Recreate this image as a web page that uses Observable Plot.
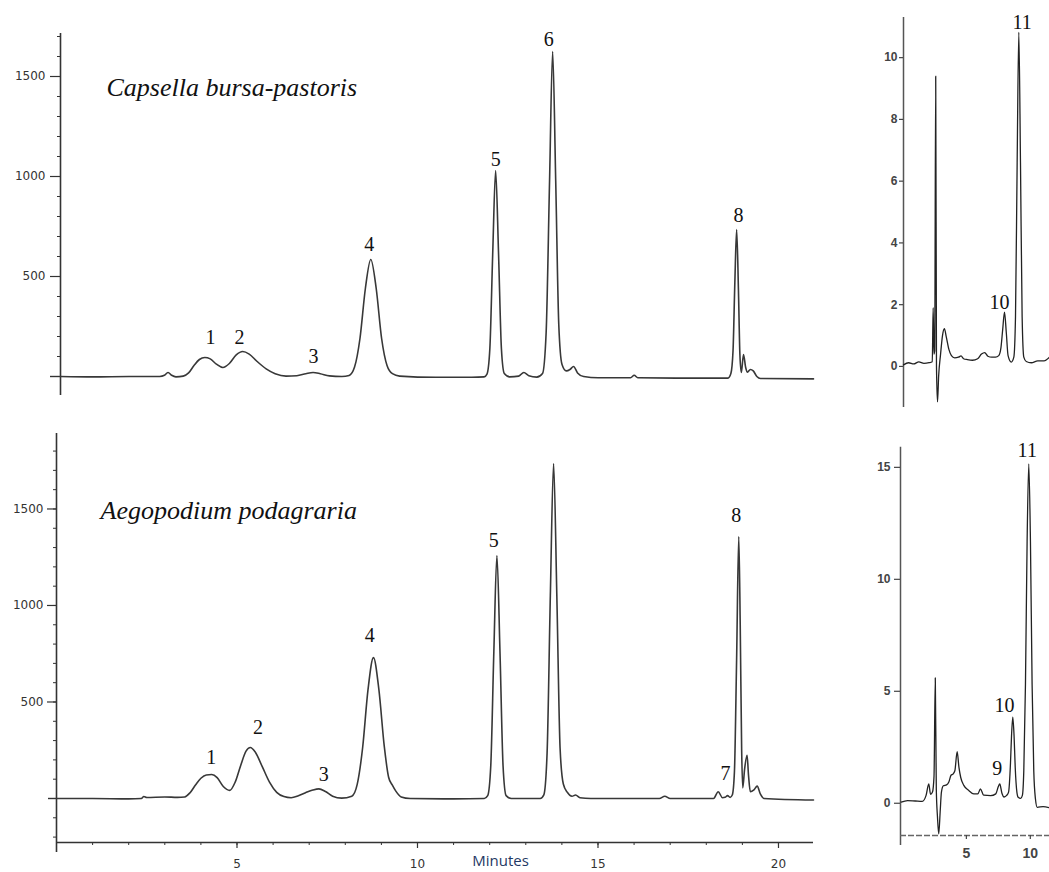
<!DOCTYPE html>
<html><head><meta charset="utf-8">
<script src="https://cdn.jsdelivr.net/npm/d3@7"></script>
<script src="https://cdn.jsdelivr.net/npm/@observablehq/plot@0.6"></script>
<style>
body{margin:0;background:#fff;}
#chart{position:relative;width:1049px;height:872px;overflow:hidden;background:#fff;}
</style></head><body><div id="chart"></div>
<script>
// ---------- DATA (time in minutes, detector signal) ----------
const capsellaName = "Capsella bursa-pastoris";
const aegopodiumName = "Aegopodium podagraria";
const xAxisTitle = [{t: 12.3, text: "Minutes"}];

const capsellaTrace = [[0.1,0],[1.0,-2],[2.0,0],[2.85,0],[2.98,6],[3.08,20],[3.18,6],[3.3,-2],[3.5,2],[3.65,18],[3.8,55],[3.95,85],[4.1,95],[4.25,88],[4.42,62],[4.6,45],[4.78,65],[4.97,108],[5.15,125],[5.33,112],[5.55,75],[5.8,38],[6.05,14],[6.35,2],[6.65,4],[6.9,14],[7.1,20],[7.3,14],[7.55,3],[7.9,0],[8.1,5],[8.25,47],[8.4,190],[8.55,440],[8.7,585],[8.85,440],[9.0,190],[9.15,55],[9.3,14],[9.5,2],[10.5,-4],[11.5,-4],[11.84,-2],[11.92,12],[12.0,140],[12.08,620],[12.16,1030],[12.24,620],[12.32,140],[12.4,15],[12.55,-2],[12.8,2],[12.94,20],[13.08,4],[13.3,-3],[13.46,15],[13.56,220],[13.655,980],[13.74,1625],[13.825,980],[13.91,260],[14.0,60],[14.12,28],[14.22,35],[14.32,50],[14.43,18],[14.6,0],[15.0,-6],[15.9,-6],[16.0,6],[16.1,-6],[17.5,-8],[18.6,-8],[18.68,15],[18.74,130],[18.79,470],[18.84,735],[18.89,430],[18.93,110],[18.97,20],[19.03,110],[19.09,45],[19.14,22],[19.22,35],[19.3,28],[19.4,0],[19.5,-10],[20.97,-12]];

const aegopodiumTrace = [[0,0],[1.0,0],[2.0,-2],[2.35,0],[2.42,10],[2.5,5],[3.0,8],[3.35,6],[3.55,8],[3.7,30],[3.85,70],[4.0,105],[4.15,122],[4.3,124],[4.45,108],[4.62,62],[4.8,42],[4.95,85],[5.1,170],[5.25,245],[5.37,264],[5.5,242],[5.7,165],[5.9,85],[6.1,32],[6.3,10],[6.5,4],[6.7,14],[6.9,30],[7.1,44],[7.27,50],[7.45,36],[7.65,12],[7.9,2],[8.18,12],[8.33,73],[8.48,263],[8.63,565],[8.78,730],[8.93,565],[9.08,270],[9.2,110],[9.3,70],[9.4,38],[9.55,8],[9.8,0],[11.0,-2],[11.85,0],[11.945,15],[12.03,170],[12.115,760],[12.2,1259],[12.285,760],[12.37,170],[12.455,15],[12.6,0],[13.4,0],[13.5,19],[13.59,235],[13.68,1050],[13.77,1735],[13.86,1050],[13.95,260],[14.04,75],[14.15,32],[14.28,12],[14.38,18],[14.5,4],[14.8,0],[16.7,0],[16.85,12],[17.0,0],[18.2,0],[18.33,35],[18.45,4],[18.52,6],[18.59,15],[18.66,6],[18.72,18],[18.78,140],[18.84,720],[18.9,1357],[18.94,900],[18.98,250],[19.01,55],[19.06,150],[19.13,224],[19.17,120],[19.22,35],[19.32,45],[19.41,64],[19.5,22],[19.6,0],[20.97,-8]];

const capsellaInsetTrace = [[0,0.05],[0.4,0.12],[0.8,0.08],[1.2,0.15],[1.6,0.1],[2.0,0.12],[2.25,0.15],[2.32,1.9],[2.38,0.4],[2.44,0.5],[2.52,9.4],[2.58,0.0],[2.66,-1.15],[2.75,-0.3],[2.9,0.4],[3.05,1.0],[3.2,1.22],[3.35,0.95],[3.55,0.55],[3.75,0.35],[4.0,0.28],[4.3,0.3],[4.5,0.34],[4.7,0.25],[5.0,0.22],[5.4,0.2],[5.8,0.25],[6.1,0.4],[6.35,0.45],[6.6,0.33],[6.9,0.3],[7.2,0.3],[7.45,0.35],[7.62,0.6],[7.76,1.2],[7.9,1.76],[8.04,1.1],[8.18,0.35],[8.43,0.14],[8.63,0.3],[8.76,1.6],[8.89,6.6],[9.02,10.82],[9.15,6.6],[9.28,1.6],[9.41,0.3],[9.6,0.16],[10.0,0.12],[10.5,0.18],[11.0,0.18],[11.42,0.3]];

const aegopodiumInsetTrace = [[-0.1,0.05],[0.4,0.12],[1.0,0.1],[1.55,0.08],[1.85,0.35],[2.06,0.86],[2.2,0.4],[2.35,0.5],[2.47,1.2],[2.57,5.6],[2.65,0.6],[2.74,-0.6],[2.84,-1.37],[2.95,-0.4],[3.05,0.5],[3.2,0.78],[3.45,0.82],[3.63,0.95],[3.8,1.25],[3.95,1.3],[4.1,1.45],[4.28,2.3],[4.42,1.6],[4.56,1.15],[4.8,0.8],[5.19,0.57],[5.58,0.42],[5.9,0.42],[6.1,0.64],[6.35,0.36],[6.9,0.34],[7.3,0.42],[7.5,0.75],[7.61,0.86],[7.78,0.45],[7.95,0.28],[8.15,0.35],[8.3,0.5],[8.45,1.8],[8.53,3.0],[8.63,3.84],[8.73,3.0],[8.82,1.6],[8.95,0.5],[9.05,0.27],[9.25,0.22],[9.38,0.35],[9.49,1.45],[9.62,5.3],[9.75,11.7],[9.88,15.15],[10.01,11.7],[10.14,5.3],[10.27,1.45],[10.4,0.2],[10.54,-0.18],[11.0,-0.15],[11.5,-0.2]];

const capsellaLabels = [{id:"1",t:4.26,v:195},{id:"2",t:5.06,v:195},{id:"3",t:7.11,v:100},{id:"4",t:8.66,v:660},{id:"5",t:12.16,v:1085},{id:"6",t:13.63,v:1685},{id:"8",t:18.89,v:805}];
const aegopodiumLabels = [{id:"1",t:4.29,v:214},{id:"2",t:5.58,v:369},{id:"3",t:7.4,v:124},{id:"4",t:8.68,v:844},{id:"5",t:12.11,v:1336},{id:"7",t:18.53,v:131},{id:"8",t:18.83,v:1466}];
const capsellaInsetLabels = [{id:"10",t:7.5,v:2.08},{id:"11",t:9.28,v:11.14}];
const aegopodiumInsetLabels = [{id:"9",t:7.41,v:1.54},{id:"10",t:7.98,v:4.36},{id:"11",t:9.76,v:15.75}];

const leftMajorTicks = [500, 1000, 1500];
const capsellaMinorTicks = d3.range(100, 1701, 100);
const aegopodiumMinorTicks = d3.range(-200, 1801, 100);
const minuteMajorTicks = [5, 10, 15, 20];
const minuteMinorTicks = d3.range(1, 21, 1);
const capsellaInsetTicks = [0, 2, 4, 6, 8, 10];
const aegopodiumInsetTicks = [0, 5, 10, 15];
const insetMinuteTicks = [5, 10];

// scale domains
const xDomainA = [0.1, 20.97], yDomainA = [-95, 1715];
const xDomainB = [0, 20.97], yDomainB = [-228, 1891];
const xDomainC = [0, 11.42], yDomainC = [-1.33, 11.3];
const xDomainD = [-0.15, 11.5], yDomainD = [-1.44, 15.9];

// ---------- STYLE ----------
const traceColor = "#383838";
const serif = "'Liberation Serif','Times New Roman',serif";
const tickFont = "'DejaVu Sans',Verdana,sans-serif";
const insetFont = "'Liberation Sans',Arial,sans-serif";
const chart = document.getElementById("chart");
const plain = d => String(d);

function place(svg, left, top) {
  svg.style.position = "absolute";
  svg.style.left = left + "px";
  svg.style.top = top + "px";
  svg.style.background = "transparent";
  svg.style.overflow = "visible";
  chart.appendChild(svg);
}
const blank = () => "";
const X = d => d[0], Y = d => d[1];

// Panel A: Capsella main chromatogram
place(Plot.plot({
  width: 830, height: 410,
  marginLeft: 60, marginRight: 17, marginTop: 33, marginBottom: 15,
  x: {domain: xDomainA, axis: null},
  y: {domain: yDomainA, axis: null},
  style: {color: "#333", background: "transparent"},
  marks: [
    Plot.ruleX([xDomainA[0]], {stroke: "#333", strokeWidth: 1.6}),
    Plot.axisY(capsellaMinorTicks, {tickSize: 3, tickFormat: blank, label: null, strokeWidth: 1}),
    Plot.axisY([0], {tickSize: 10, tickFormat: blank, label: null, strokeWidth: 1.4}),
    Plot.axisY(leftMajorTicks, {tickSize: 10, tickPadding: 5, tickFormat: plain, label: null, fontSize: 12, fontFamily: tickFont, strokeWidth: 1.2}),
    Plot.line(capsellaTrace, {x: X, y: Y, curve: "monotone-x", stroke: traceColor, strokeWidth: 1.6}),
    Plot.text(capsellaLabels, {x: "t", y: "v", text: "id", fontFamily: serif, fontSize: 20, fill: "#111", lineAnchor: "middle"}),
    Plot.text([capsellaName], {text: d => d, frameAnchor: "top-left", dx: 46, dy: 54, lineAnchor: "middle", textAnchor: "start", fontStyle: "italic", fontFamily: serif, fontSize: 26, fill: "#111"})
  ]
}), 0, 0);

// Panel B: Aegopodium main chromatogram
place(Plot.plot({
  width: 830, height: 452,
  marginLeft: 56, marginRight: 17, marginTop: 13, marginBottom: 30,
  x: {domain: xDomainB, axis: null},
  y: {domain: yDomainB, axis: null},
  style: {color: "#333", background: "transparent"},
  marks: [
    Plot.ruleX([xDomainB[0]], {stroke: "#333", strokeWidth: 1.6, insetBottom: -10}),
    Plot.ruleY([yDomainB[0]], {stroke: "#333", strokeWidth: 1.6}),
    Plot.axisY(aegopodiumMinorTicks, {tickSize: 3, tickFormat: blank, label: null, strokeWidth: 1}),
    Plot.axisY([0], {tickSize: 8, tickFormat: blank, label: null, strokeWidth: 1.4}),
    Plot.axisY(leftMajorTicks, {tickSize: 9, tickPadding: 4, tickFormat: plain, label: null, fontSize: 12, fontFamily: tickFont, strokeWidth: 1.2}),
    Plot.axisX(minuteMinorTicks, {tickSize: 3, tickFormat: blank, label: null, strokeWidth: 1}),
    Plot.axisX(minuteMajorTicks, {tickSize: 6, tickPadding: 11, tickFormat: plain, label: null, fontSize: 12, fontFamily: tickFont, strokeWidth: 1.2}),
    Plot.text(xAxisTitle, {x: "t", text: "text", frameAnchor: "bottom", dy: 19, lineAnchor: "middle", fontFamily: "'Open Sans',sans-serif", fontSize: 15, fill: "#1f3864"}),
    Plot.line(aegopodiumTrace, {x: X, y: Y, curve: "monotone-x", stroke: traceColor, strokeWidth: 1.6}),
    Plot.text(aegopodiumLabels, {x: "t", y: "v", text: "id", fontFamily: serif, fontSize: 20, fill: "#111", lineAnchor: "middle"}),
    Plot.text([aegopodiumName], {text: d => d, frameAnchor: "top-left", dx: 44, dy: 77, lineAnchor: "middle", textAnchor: "start", fontStyle: "italic", fontFamily: serif, fontSize: 26, fill: "#111"})
  ]
}), 0, 420);

// Panel C: Capsella inset
place(Plot.plot({
  width: 199, height: 420,
  marginLeft: 53, marginRight: 0, marginTop: 17, marginBottom: 13,
  x: {domain: xDomainC, axis: null},
  y: {domain: yDomainC, axis: null},
  style: {color: "#444", background: "transparent"},
  marks: [
    Plot.ruleX([xDomainC[0]], {stroke: "#555", strokeWidth: 1.5}),
    Plot.axisY(capsellaInsetTicks, {tickSize: 4, tickPadding: 2, tickFormat: plain, label: null, fontSize: 12, fontWeight: "bold", fontFamily: insetFont, strokeWidth: 1.2}),
    Plot.line(capsellaInsetTrace, {x: X, y: Y, curve: "monotone-x", stroke: "#222", strokeWidth: 1.3}),
    Plot.text(capsellaInsetLabels, {x: "t", y: "v", text: "id", fontFamily: serif, fontSize: 20, fill: "#111", lineAnchor: "middle"})
  ]
}), 850, 0);

// Panel D: Aegopodium inset
place(Plot.plot({
  width: 199, height: 452,
  marginLeft: 50, marginRight: 0, marginTop: 26.7, marginBottom: 37,
  x: {domain: xDomainD, axis: null},
  y: {domain: yDomainD, axis: null},
  style: {color: "#444", background: "transparent"},
  marks: [
    Plot.ruleX([xDomainD[0]], {stroke: "#555", strokeWidth: 1.5, insetBottom: -10}),
    Plot.ruleY([yDomainD[0]], {stroke: "#666", strokeWidth: 1.3, strokeDasharray: "6,2"}),
    Plot.axisY(aegopodiumInsetTicks, {tickSize: 6, tickPadding: 4, tickFormat: plain, label: null, fontSize: 12, fontWeight: "bold", fontFamily: insetFont, strokeWidth: 1.2}),
    Plot.axisX(insetMinuteTicks, {tickSize: 4, tickPadding: 9, tickFormat: plain, label: null, fontSize: 14, fontWeight: "bold", fontFamily: insetFont, strokeWidth: 1.2}),
    Plot.line(aegopodiumInsetTrace, {x: X, y: Y, curve: "monotone-x", stroke: "#222", strokeWidth: 1.3}),
    Plot.text(aegopodiumInsetLabels, {x: "t", y: "v", text: "id", fontFamily: serif, fontSize: 20, fill: "#111", lineAnchor: "middle"})
  ]
}), 850, 420);
</script></body></html>
